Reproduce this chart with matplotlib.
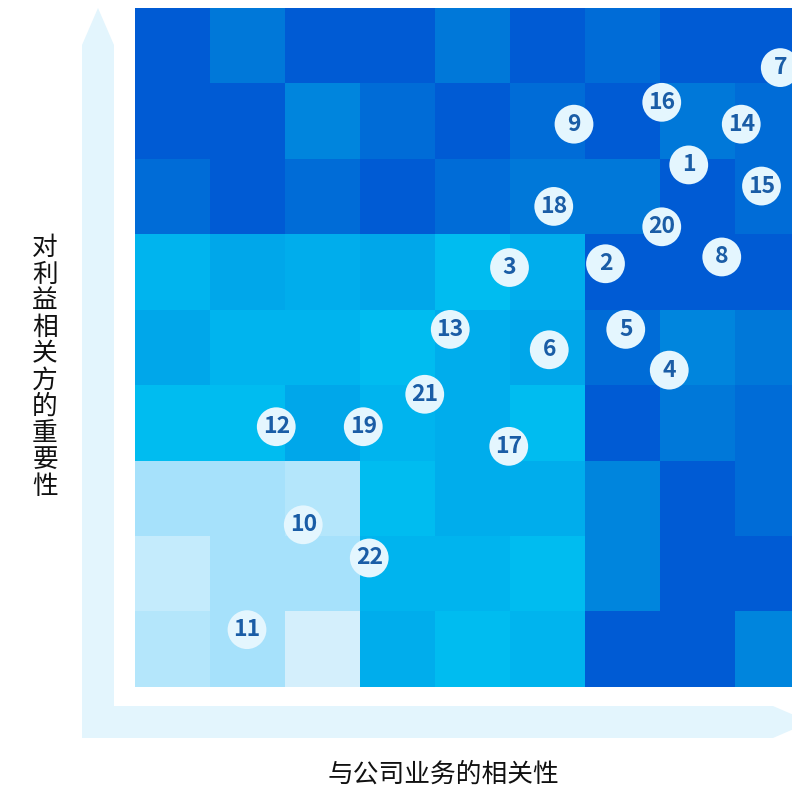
import matplotlib
matplotlib.use("Agg")
import matplotlib.pyplot as plt
from matplotlib.colors import ListedColormap
from matplotlib.patches import Polygon
import numpy as np

plt.rcParams['font.family'] = ['Noto Sans CJK SC', 'DejaVu Sans']

# cell shades, light -> dark
palette = ['#D4EFFC', '#C4EBFC', '#B4E6FB', '#A6E1FB', '#00BCF0', '#00B4EE',
           '#00ADEC', '#00A7EA', '#0085DD', '#0078D9', '#006CD7', '#005BD4']

# shade index per cell, top row first
levels = [
    [11, 9, 11, 11, 9, 11, 10, 11, 11],
    [11, 11, 8, 10, 11, 10, 11, 9, 10],
    [10, 11, 10, 11, 10, 9, 9, 11, 10],
    [5, 7, 6, 7, 4, 6, 11, 11, 11],
    [7, 5, 5, 4, 6, 7, 10, 8, 9],
    [4, 4, 7, 5, 6, 4, 11, 9, 10],
    [3, 3, 2, 4, 6, 6, 8, 11, 10],
    [1, 3, 3, 5, 5, 4, 8, 11, 11],
    [2, 3, 0, 6, 4, 5, 11, 11, 8],
]

labels = ['7', '16', '9', '14', '1', '15', '18', '20', '8', '3', '2',
          '13', '5', '6', '4', '21', '17', '12', '19', '10', '22', '11']
relevance = [8.61, 7.03, 5.86, 8.09, 7.39, 8.36, 5.59, 7.03, 7.83, 5.00, 6.28,
             4.21, 6.55, 5.53, 7.13, 3.87, 4.99, 1.89, 3.05, 2.25, 3.13, 1.50]
importance = [8.21, 7.75, 7.46, 7.46, 6.92, 6.64, 6.37, 6.10, 5.70, 5.56, 5.61,
              4.74, 4.74, 4.47, 4.20, 3.88, 3.19, 3.45, 3.45, 2.15, 1.71, 0.76]

x_title = '与公司业务的相关性'
y_title = '对利益相关方的重要性'

W = 792
fig = plt.figure(figsize=(7.92, 7.92), dpi=100)

# background layer in pixel units for the arrows and titles
bg = fig.add_axes([0, 0, 1, 1])
bg.set_xlim(0, W)
bg.set_ylim(W, 0)
bg.axis('off')
arrow = Polygon([(82, 738), (82, 45), (98, 8), (114, 45), (114, 706),
                 (773, 706), (810, 722), (773, 738)],
                closed=True, facecolor='#E3F5FD', edgecolor='none')
bg.add_patch(arrow)
bg.text(443, 775, x_title, fontsize=18.5, ha='center', va='center',
        color='#111111', fontweight='medium')
for i, ch in enumerate(y_title):
    bg.text(45, 248 + i * 26.5, ch, fontsize=18.5, ha='center', va='center',
            color='#111111', fontweight='medium')

# heatmap, extends past the right edge like the original
ax = fig.add_axes([134.5 / W, (W - 687) / W, 675 / W, 679 / W])
ax.imshow(np.array(levels), cmap=ListedColormap(palette), vmin=-0.5,
          vmax=len(palette) - 0.5, extent=(0, 9, 0, 9), aspect='auto',
          interpolation='nearest')
ax.scatter(relevance, importance, s=780, color='#E4F6FE', edgecolor='none', zorder=3)
for lab, x, y in zip(labels, relevance, importance):
    ax.text(x, y, lab, ha='center', va='center', fontsize=16.5, fontweight='heavy',
            color='#1A5DA6', zorder=4)
ax.set_xlim(0, 9)
ax.set_ylim(0, 9)
ax.axis('off')

fig.savefig('out.png', dpi=100)
